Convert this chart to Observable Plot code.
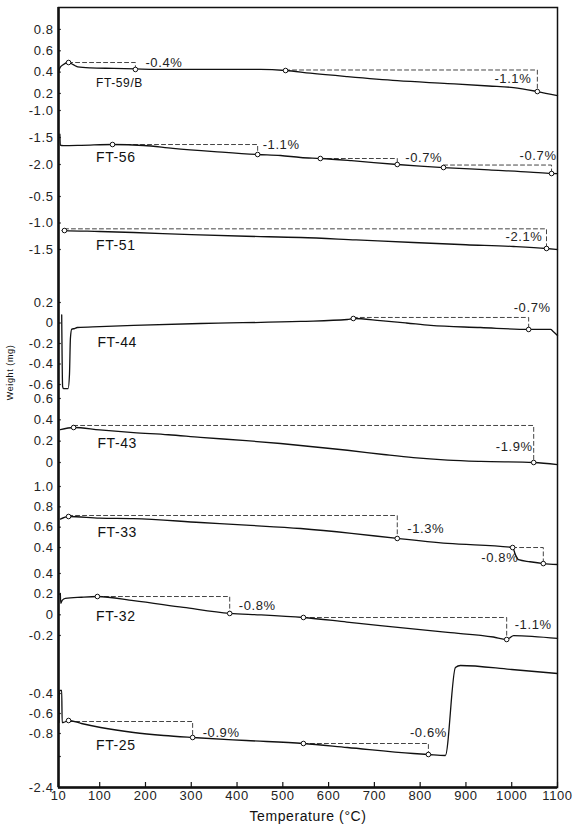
<!DOCTYPE html>
<html><head><meta charset="utf-8">
<script src="https://cdn.jsdelivr.net/npm/d3@7"></script>
<script src="https://cdn.jsdelivr.net/npm/@observablehq/plot@0.6"></script>
<style>body{margin:0;background:#fff}</style>
</head><body><div id="chart"></div>
<script>
// ---- data (temperature °C, weight mg) ----
const panels = ["FT-59/B","FT-56","FT-51","FT-44","FT-43","FT-33","FT-32","FT-25"];

const ft59b = [[10,0.40],[13,0.44],[20,0.47],[32,0.49],[42,0.47],[52,0.45],[80,0.44],[130,0.435],[178,0.43],[250,0.425],[350,0.425],[451,0.425],[506,0.415],[560,0.39],[641,0.358],[750,0.32],[860,0.293],[950,0.27],[1004,0.255],[1056,0.218],[1100,0.18]];
const ft56 = [[13,-1.44],[14,-1.64],[20,-1.65],[60,-1.645],[128,-1.63],[196,-1.648],[260,-1.70],[350,-1.76],[445,-1.815],[495,-1.833],[539,-1.87],[582,-1.889],[650,-1.93],[750,-2.0],[800,-2.03],[851,-2.056],[950,-2.1],[1040,-2.14],[1087,-2.167],[1100,-2.17]];
const ft51 = [[18,-1.14],[23,-1.142],[100,-1.16],[174,-1.179],[300,-1.22],[420,-1.25],[539,-1.274],[660,-1.32],[785,-1.368],[900,-1.41],[1004,-1.443],[1076,-1.481],[1100,-1.5]];
const ft44 = [[17,0.08],[19,-0.62],[21,-0.64],[31,-0.64],[34,-0.5],[36,-0.15],[39,-0.06],[45,-0.054],[51,-0.044],[100,-0.035],[174,-0.024],[320,-0.005],[539,0.015],[641,0.034],[654,0.044],[713,0.024],[770,0.0],[823,-0.024],[932,-0.044],[1037,-0.063],[1085,-0.063],[1090,-0.08],[1100,-0.122]];
const ft43 = [[14,0.309],[43,0.328],[100,0.305],[174,0.28],[250,0.26],[320,0.235],[420,0.205],[495,0.178],[560,0.15],[641,0.115],[720,0.075],[785,0.045],[860,0.022],[932,0.01],[1048,0.0],[1100,-0.019]];
const ft33 = [[14,0.68],[32,0.705],[100,0.69],[174,0.685],[320,0.646],[420,0.62],[539,0.587],[650,0.54],[750,0.489],[860,0.44],[1002,0.40],[1008,0.33],[1015,0.28],[1040,0.26],[1069,0.242],[1100,0.233]];
const ft32 = [[14,0.206],[15,0.11],[18,0.14],[25,0.158],[60,0.17],[95,0.177],[174,0.138],[283,0.071],[384,0.013],[450,0.0],[545,-0.026],[640,-0.07],[713,-0.104],[860,-0.171],[960,-0.215],[989,-0.239],[995,-0.225],[1004,-0.201],[1100,-0.229]];
const ft25 = [[11,-0.69],[12,-0.37],[17,-0.37],[18,-0.69],[20,-0.69],[32,-0.67],[60,-0.70],[102,-0.74],[174,-0.79],[240,-0.82],[303,-0.84],[420,-0.87],[545,-0.90],[641,-0.94],[785,-1.00],[818,-1.01],[855,-1.02],[877,-0.14],[888,-0.12],[1000,-0.16],[1100,-0.20]];
const curves = [ft59b, ft56, ft51, ft44, ft43, ft33, ft32, ft25];

// weight-loss steps
const stepPanel = ["FT-59/B","FT-59/B","FT-56","FT-56","FT-56","FT-51","FT-44","FT-43","FT-33","FT-33","FT-32","FT-32","FT-25","FT-25"];
const stepFrom  = [32,506,128,582,851,23,654,43,32,1002,95,545,32,545];
const stepTo    = [178,1056,445,750,1087,1076,1037,1048,750,1069,384,989,303,818];
const stepStart = [0.49,0.415,-1.63,-1.889,-2.056,-1.142,0.044,0.328,0.705,0.40,0.177,-0.026,-0.67,-0.90];
const stepLevel = [0.49,0.42,-1.63,-1.889,-2.01,-1.11,0.054,0.347,0.715,0.40,0.177,-0.026,-0.68,-0.90];
const stepEnd   = [0.425,0.218,-1.815,-2.0,-2.167,-1.481,-0.063,0.0,0.489,0.242,0.013,-0.239,-0.84,-1.01];
const stepLabel = ["-0.4%","-1.1%","-1.1%","-0.7%","-0.7%","-2.1%","-0.7%","-1.9%","-1.3%","-0.8%","-0.8%","-1.1%","-0.9%","-0.6%"];

// y tick labels per panel
const tickValues = {
  "FT-59/B":[0.8,0.6,0.4,0.2], "FT-56":[-1.0,-1.5,-2.0], "FT-51":[-0.5,-1.0,-1.5],
  "FT-44":[0.2,0,-0.2,-0.4,-0.6], "FT-43":[0.6,0.4,0.2,0], "FT-33":[1.0,0.8,0.6,0.4],
  "FT-32":[0.4,0.2,0,-0.2], "FT-25":[-0.4,-0.6,-0.8,-1.03,-1.34]
};
const tickLabels = {
  "FT-59/B":["0.8","0.6","0.4","0.2"], "FT-56":["-1.0","-1.5","-2.0"], "FT-51":["-0.5","-1.0","-1.5"],
  "FT-44":["0.2","0","-0.2","-0.4","-0.6"], "FT-43":["0.6","0.4","0.2","0"], "FT-33":["1.0","0.8","0.6","0.4"],
  "FT-32":["0.4","0.2","0","-0.2"], "FT-25":["-0.4","-0.6","-0.8","","-2.4"]
};
const xTicks = [10,100,200,300,400,500,600,700,800,900,1000,1100];

// ---- layout: each panel's vertical placement in the stacked track ----
const layout = {
  "FT-59/B":{base:672.7,gain:106.7}, "FT-56":{base:731,gain:54}, "FT-51":{base:617.5,gain:53},
  "FT-44":{base:464.5,gain:102.5}, "FT-43":{base:325,gain:106.7}, "FT-33":{base:199.3,gain:101.7},
  "FT-32":{base:172.7,gain:103.3}, "FT-25":{base:134,gain:100}
};
const nameAt = {"FT-59/B":[92,0.293],"FT-56":[92,-1.87],"FT-51":[92,-1.425],"FT-44":[95,-0.19],"FT-43":[95,0.178],"FT-33":[95,0.548],"FT-32":[92,-0.016],"FT-25":[92,-0.92]};
const labelPlace = [["start",10,0],["end",-6,9],["start",5,0],["start",8,-1],["end",5,-9],["end",-4,8],["end",22,-10],["end",-1,21],["start",10,13],["end",-25,10],["start",9,9],["start",8,7],["start",10,11],["middle",0,-11]];

const g = (p, v) => layout[p].base + v * layout[p].gain;

const lineData = curves.flatMap((c, k) => c.map(([t, v]) => ({panel: panels[k], t, y: g(panels[k], v)})));
const dashData = stepPanel.flatMap((p, i) => [
  {i, t: stepFrom[i], y: g(p, stepLevel[i])},
  {i, t: stepTo[i], y: g(p, stepLevel[i])},
  {i, t: stepTo[i], y: g(p, stepEnd[i])}
]);
const markers = stepPanel.flatMap((p, i) => [
  {t: stepFrom[i], y: g(p, stepStart[i])},
  {t: stepTo[i], y: g(p, stepEnd[i])}
]);
const tickData = panels.flatMap(p => tickValues[p].map((v, j) => ({y: g(p, v), label: tickLabels[p][j]})));
const nameData = panels.map(p => ({name: p, t: nameAt[p][0], y: g(p, nameAt[p][1])}));

const labelMarks = stepPanel.map((p, i) => Plot.text([{t: stepTo[i], y: g(p, stepLevel[i]), s: stepLabel[i]}], {
  x: "t", y: "y", text: "s", textAnchor: labelPlace[i][0], dx: labelPlace[i][1], dy: labelPlace[i][2], fill: "#222"
}));

const chart = Plot.plot({
  width: 576, height: 825,
  marginTop: 7, marginBottom: 38, marginLeft: 58, marginRight: 19,
  x: {domain: [10, 1100], axis: null},
  y: {domain: [0, 780], axis: null},
  style: {fontFamily: "'Liberation Sans', Arial, sans-serif", fontSize: "13px", letterSpacing: "0.6px", color: "#111", background: "#fff"},
  marks: [
    Plot.line(dashData, {x: "t", y: "y", z: "i", stroke: "#444", strokeWidth: 1, strokeDasharray: "4,3"}),
    Plot.line(lineData, {x: "t", y: "y", z: "panel", stroke: "#111", strokeWidth: 1.3, curve: "monotone-x"}),
    Plot.dot(markers, {x: "t", y: "y", r: 2.3, stroke: "#111", fill: "white", strokeWidth: 1}),
    ...labelMarks,
    Plot.text(nameData, {x: "t", y: "y", text: "name", textAnchor: "start", fontSize: d => d.name === "FT-59/B" ? 12 : 14, fill: "#111"}),
    Plot.ruleY(tickData, {x1: 10, x2: 16, y: "y", stroke: "#111", strokeWidth: 1.2}),
    Plot.text(tickData, {x: 10, y: "y", text: "label", textAnchor: "end", dx: -5, fill: "#222"}),
    Plot.ruleX(xTicks, {x: d => d, y1: 0, y2: 5, stroke: "#111", strokeWidth: 1.2}),
    Plot.text(xTicks, {x: d => d, frameAnchor: "bottom", lineAnchor: "top", dy: 3, text: d => String(d), fill: "#222"}),
    Plot.text(["Temperature (°C)"], {frameAnchor: "bottom", lineAnchor: "middle", dy: 29, fontSize: 14, fill: "#111"}),
    Plot.text(["Weight (mg)"], {frameAnchor: "left", textAnchor: "middle", lineAnchor: "middle", dx: -48, dy: -25, rotate: -90, fontSize: 9, letterSpacing: "0px", fill: "#111"}),
    Plot.frame({stroke: "#111", strokeWidth: 1.5}),
    Plot.ruleX([10], {stroke: "#111", strokeWidth: 2.5}),
    Plot.ruleY([0], {stroke: "#111", strokeWidth: 2.5})
  ]
});
document.getElementById("chart").appendChild(chart);
</script></body></html>
